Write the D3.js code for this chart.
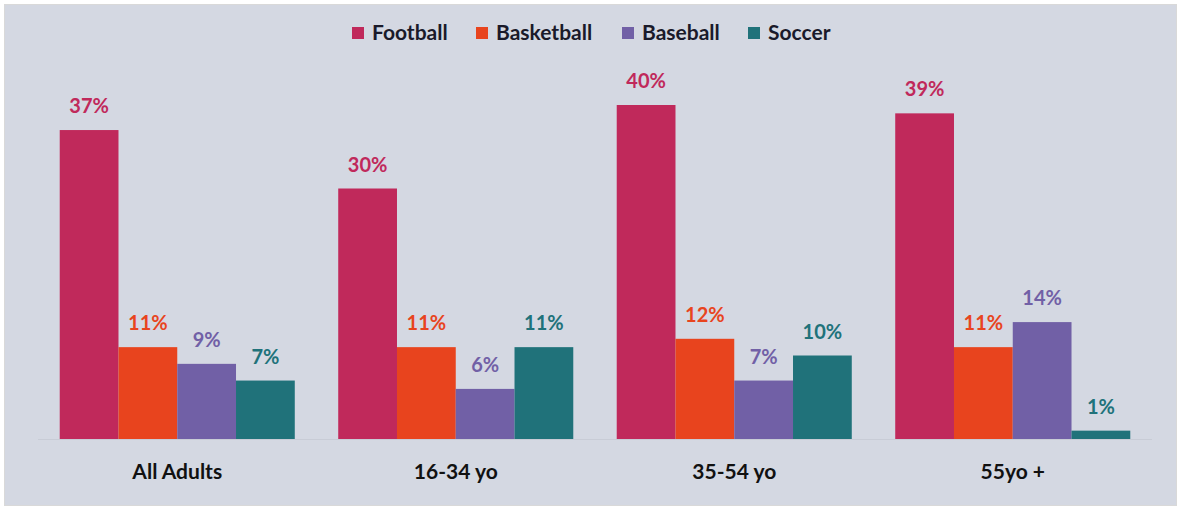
<!DOCTYPE html>
<html><head><meta charset="utf-8">
<script src="https://cdn.jsdelivr.net/npm/d3@7"></script>
<style>
html,body{margin:0;padding:0;background:#ffffff;}
svg{display:block;}
</style></head>
<body><svg id="chart" width="1179" height="509"></svg>
<script>
const categories = ["All Adults", "16-34 yo", "35-54 yo", "55yo +"];
const seriesNames = ["Football", "Basketball", "Baseball", "Soccer"];
const football = [37, 30, 40, 39];
const basketball = [11, 11, 12, 11];
const baseball = [9, 6, 7, 14];
const soccer = [7, 11, 10, 1];
const colors = ["#c0295b", "#e8441e", "#7160a6", "#20727a"];

const seriesValues = [football, basketball, baseball, soccer];
const rows = [];
categories.forEach((c, i) => {
  seriesNames.forEach((s, j) => rows.push({cat: c, series: s, value: seriesValues[j][i], color: colors[j]}));
});

const svg = d3.select("#chart");
const W = 1179, H = 509;
svg.append("rect").attr("x", 4.5).attr("y", 4.5).attr("width", W - 7).attr("height", H - 8)
  .attr("fill", "#d4d8e2").attr("stroke", "#d9d9d9").attr("stroke-width", 1);

const left = 38, right = 1152, baseY = 439;
const x0 = d3.scaleBand().domain(categories).range([left, right]).paddingInner(0.156).paddingOuter(0.078);
const x1 = d3.scaleBand().domain(seriesNames).range([0, x0.bandwidth()]).padding(0);
const y = d3.scaleLinear().domain([0, 40]).range([baseY, baseY - 334]);

const font = "Lato, 'Open Sans', sans-serif";

// baseline
svg.append("line").attr("x1", left).attr("x2", right).attr("y1", baseY + 0.5).attr("y2", baseY + 0.5)
  .attr("stroke", "#c8ccd6").attr("stroke-width", 1);

const g = svg.append("g");
g.selectAll("rect.bar").data(rows).enter().append("rect").attr("class", "bar")
  .attr("x", d => x0(d.cat) + x1(d.series))
  .attr("y", d => y(d.value))
  .attr("width", x1.bandwidth())
  .attr("height", d => baseY - y(d.value))
  .attr("fill", d => d.color);

g.selectAll("text.val").data(rows).enter().append("text").attr("class", "val")
  .attr("x", d => x0(d.cat) + x1(d.series) + x1.bandwidth() / 2)
  .attr("y", d => y(d.value) - 17)
  .attr("text-anchor", "middle")
  .attr("font-family", font).attr("font-weight", "bold").attr("font-size", 20)
  .attr("fill", d => d.color)
  .text(d => d.value + "%");

// category axis
const xAxis = d3.axisBottom(x0).tickSize(0).tickPadding(0);
const ax = svg.append("g").attr("transform", `translate(0,${baseY + 40})`).call(xAxis);
ax.select(".domain").remove();
ax.selectAll("text").attr("font-family", font).attr("font-weight", "bold").attr("font-size", 21)
  .attr("fill", "#111").attr("dy", 0);

// legend
const legendX = [352, 476, 622, 748];
const lg = svg.append("g");
seriesNames.forEach((s, j) => {
  lg.append("rect").attr("x", legendX[j]).attr("y", 27).attr("width", 12).attr("height", 12).attr("fill", colors[j]);
  lg.append("text").attr("x", legendX[j] + 20).attr("y", 40)
    .attr("font-family", font).attr("font-weight", "bold").attr("font-size", 21)
    .attr("fill", "#1a1a2a").text(s);
});
</script></body></html>
